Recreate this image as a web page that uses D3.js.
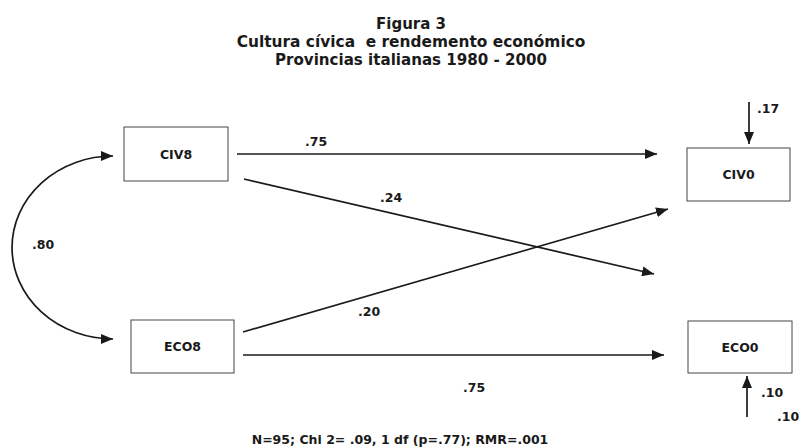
<!DOCTYPE html>
<html>
<head>
<meta charset="utf-8">
<script src="https://cdn.jsdelivr.net/npm/d3@7/dist/d3.min.js"></script>
<style>
  html, body { margin: 0; padding: 0; background: #fff; }
  svg { display: block; font-family: "DejaVu Sans", "Open Sans", sans-serif; font-weight: bold; }
  text { white-space: pre; }
</style>
</head>
<body>
<svg id="chart" width="799" height="448"></svg>
<script>
// ---- data ----
const titleLines = ["Figura 3", "Cultura cívica  e rendemento económico", "Provincias italianas 1980 - 2000"];
const footnote = "N=95; Chi 2= .09, 1 df (p=.77); RMR=.001";
const exogenous = ["CIV8", "ECO8"];
const endogenous = ["CIV0", "ECO0"];
const pathSources = ["CIV8", "CIV8", "ECO8", "ECO8"];
const pathTargets = ["CIV0", "ECO0", "CIV0", "ECO0"];
const pathLabels = [".75", ".24", ".20", ".75"];
const correlationLabel = ".80";
const residualLabels = [".17", ".10"];
const extraLabel = ".10";

// ---- layout ----
const svg = d3.select("#chart");
const ink = "#1a1a1a";

const defs = svg.append("defs");
defs.append("marker")
  .attr("id", "arr").attr("viewBox", "0 0 12 10")
  .attr("refX", 12).attr("refY", 5)
  .attr("markerWidth", 12).attr("markerHeight", 10)
  .attr("markerUnits", "userSpaceOnUse")
  .attr("orient", "auto-start-reverse")
  .append("path").attr("d", "M0,0 L12,5 L0,10 Z").attr("fill", ink);

// fit a text to a target width by adjusting its font size
function fitWidth(sel, target) {
  sel.each(function () {
    const len = this.getComputedTextLength();
    const fs = parseFloat(d3.select(this).attr("font-size"));
    if (len > 0) d3.select(this).attr("font-size", (fs * target / len).toFixed(2));
  });
}

// title
const titleWidths = [70, 349, 272];
svg.append("g").selectAll("text").data(titleLines).join("text")
  .attr("x", 411).attr("y", (d, i) => 29 + i * 18)
  .attr("text-anchor", "middle").attr("font-size", 14).attr("fill", ink)
  .text(d => d)
  .each(function (d, i) { fitWidth(d3.select(this), titleWidths[i]); });

// boxes
const boxes = [
  { name: exogenous[0], cx: 176, cy: 154, w: 104, h: 54 },
  { name: exogenous[1], cx: 182.5, cy: 346.5, w: 103, h: 53 },
  { name: endogenous[0], cx: 738.5, cy: 174.5, w: 103, h: 53 },
  { name: endogenous[1], cx: 740, cy: 347, w: 104, h: 52 }
];
const gBox = svg.append("g");
gBox.selectAll("rect").data(boxes).join("rect")
  .attr("x", d => d.cx - d.w / 2).attr("y", d => d.cy - d.h / 2)
  .attr("width", d => d.w).attr("height", d => d.h)
  .attr("fill", "none").attr("stroke", "#444").attr("stroke-width", 1);
gBox.selectAll("text").data(boxes).join("text")
  .attr("x", d => d.cx).attr("y", d => d.cy + 4.5)
  .attr("text-anchor", "middle").attr("font-size", 12.5).attr("fill", ink)
  .text(d => d.name);

// path arrows (geometry per edge)
const edgeGeom = {
  "CIV8-CIV0": { x1: 237, y1: 154, x2: 657, y2: 154, lx: 305, ly: 146 },
  "CIV8-ECO0": { x1: 244, y1: 179, x2: 654, y2: 274, lx: 380, ly: 202 },
  "ECO8-CIV0": { x1: 243, y1: 332, x2: 668, y2: 209, lx: 358, ly: 316 },
  "ECO8-ECO0": { x1: 243, y1: 355, x2: 664, y2: 355, lx: 463, ly: 392 }
};
const edges = pathSources.map((s, i) => Object.assign({ label: pathLabels[i] }, edgeGeom[s + "-" + pathTargets[i]]));
const gEdge = svg.append("g");
gEdge.selectAll("line").data(edges).join("line")
  .attr("x1", d => d.x1).attr("y1", d => d.y1)
  .attr("x2", d => d.x2).attr("y2", d => d.y2)
  .attr("stroke", ink).attr("stroke-width", 1.7)
  .attr("marker-end", "url(#arr)");
gEdge.selectAll("text").data(edges).join("text")
  .attr("x", d => d.lx).attr("y", d => d.ly)
  .attr("font-size", 12.5).attr("fill", ink)
  .text(d => d.label);

// correlation curve
svg.append("path")
  .attr("d", "M113,156 A101,91.5 0 0 0 113,339")
  .attr("fill", "none").attr("stroke", ink).attr("stroke-width", 1.7)
  .attr("marker-start", "url(#arr)").attr("marker-end", "url(#arr)");
svg.append("text").attr("x", 32).attr("y", 249)
  .attr("font-size", 12.5).attr("fill", ink).text(correlationLabel);

// residual arrows
const residuals = [
  { label: residualLabels[0], x: 749, y1: 102, y2: 144, lx: 757, ly: 113 },
  { label: residualLabels[1], x: 747, y1: 417, y2: 376, lx: 761, ly: 397 }
];
const gRes = svg.append("g");
gRes.selectAll("line").data(residuals).join("line")
  .attr("x1", d => d.x).attr("x2", d => d.x)
  .attr("y1", d => d.y1).attr("y2", d => d.y2)
  .attr("stroke", ink).attr("stroke-width", 1.7)
  .attr("marker-end", "url(#arr)");
gRes.selectAll("text").data(residuals).join("text")
  .attr("x", d => d.lx).attr("y", d => d.ly)
  .attr("font-size", 12.5).attr("fill", ink).text(d => d.label);
svg.append("text").attr("x", 777).attr("y", 421)
  .attr("font-size", 12.5).attr("fill", ink).text(extraLabel);

// footnote
svg.append("text").attr("x", 400).attr("y", 444)
  .attr("text-anchor", "middle").attr("font-size", 11).attr("fill", ink)
  .text(footnote)
  .call(s => fitWidth(s, 297));
</script>
</body>
</html>
